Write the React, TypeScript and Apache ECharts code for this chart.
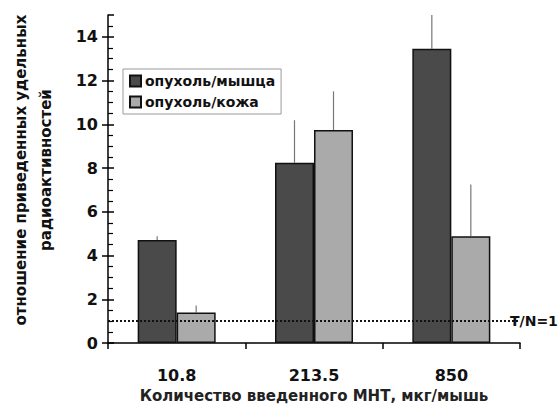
import React, { useEffect, useRef } from "react";
import * as echarts from "echarts";

const categories = ["10.8", "213.5", "850"];
const seriesNames = ["опухоль/мышца", "опухоль/кожа"];
const muscleValues = [4.71, 8.25, 13.46];
const muscleErrors = [0.18, 1.94, 1.63];
const skinValues = [1.4, 9.74, 4.89];
const skinErrors = [0.32, 1.77, 2.36];
const referenceLevel = 1;
const referenceLabel = "T/N=1";
const yAxisName = "отношение приведенных удельных\nрадиоактивностей";
const xAxisName = "Количество введенного МНТ, мкг/мышь";

const FONT = "'DejaVu Sans', 'Liberation Sans', Arial, sans-serif";
const BAR_W = 39;

function errorSeries(values: number[], errors: number[], offset: number) {
  return {
    type: "custom",
    clip: true,
    silent: true,
    z: 1,
    data: values.map((v, i) => [i, v, errors[i]]),
    renderItem: (params: any, api: any) => {
      const base = api.coord([api.value(0), api.value(1)]);
      const top = api.coord([api.value(0), api.value(1) + api.value(2)]);
      const x = base[0] + offset;
      return {
        type: "line",
        shape: { x1: x, y1: base[1], x2: x, y2: top[1] },
        style: { stroke: "#777", lineWidth: 1.2 },
      };
    },
  };
}

export default function App() {
  const ref = useRef<HTMLDivElement>(null);
  useEffect(() => {
    if (!ref.current) return;
    const chart = echarts.init(ref.current, null, { renderer: "svg" });
    chart.setOption({
      animation: false,
      backgroundColor: "#fff",
      textStyle: { fontFamily: FONT },
      grid: { left: 107, right: 38, top: 15, bottom: 61 },
      legend: {
        orient: "vertical",
        left: 123,
        top: 69,
        padding: [5, 6, 5, 6],
        itemGap: 7,
        itemWidth: 11,
        itemHeight: 11,
        icon: "rect",
        backgroundColor: "#fff",
        borderColor: "#999",
        borderWidth: 1,
        textStyle: { fontFamily: FONT, fontWeight: "bold", fontSize: 14, color: "#111", padding: [0, 0, 0, -1] },
        data: seriesNames,
      },
      xAxis: {
        type: "category",
        data: categories,
        name: xAxisName,
        nameLocation: "middle",
        nameGap: 44,
        nameTextStyle: { fontFamily: FONT, fontWeight: "bold", fontSize: 15, color: "#222" },
        axisLine: { lineStyle: { color: "#000", width: 1.5 } },
        axisTick: { show: true, length: 6, lineStyle: { color: "#000", width: 1.5 } },
        axisLabel: { fontFamily: FONT, fontWeight: "bold", fontSize: 16, color: "#111", margin: 24 },
      },
      yAxis: [
        {
          type: "value",
          min: 0,
          max: 15,
          interval: 2,
          name: yAxisName,
          nameLocation: "middle",
          nameRotate: 90,
          nameGap: 50,
          nameTextStyle: {
            fontFamily: FONT,
            fontWeight: "bold",
            fontSize: 15,
            color: "#111",
            lineHeight: 25,
            padding: [0, 0, 0, 18],
          },
          axisLine: { show: true, lineStyle: { color: "#000", width: 1.5 } },
          axisTick: { show: true, length: 6, lineStyle: { color: "#000", width: 1.5 } },
          axisLabel: { fontFamily: FONT, fontWeight: "bold", fontSize: 16, color: "#111", margin: 10, showMaxLabel: false },
          splitLine: { show: false },
        },
        {
          type: "value",
          min: 0,
          max: 15,
          interval: 2,
          position: "left",
          axisLine: { show: false },
          axisLabel: { show: false },
          axisTick: { show: true, inside: true, length: 6, lineStyle: { color: "#000", width: 1.5 } },
          minorTick: { show: true, splitNumber: 4, length: 5, lineStyle: { color: "#000", width: 1.2 } },
          splitLine: { show: false },
        },
      ],
      series: [
        {
          name: seriesNames[0],
          type: "bar",
          data: muscleValues,
          barWidth: BAR_W,
          barGap: "0%",
          itemStyle: { color: "#4a4a4a", borderColor: "#111", borderWidth: 1.5 },
          z: 2,
          markLine: {
            silent: true,
            symbol: "none",
            z: 5,
            lineStyle: { color: "#111", type: "dotted", width: 2 },
            label: {
              show: true,
              position: "end",
              distance: -10,
              formatter: referenceLabel,
              fontFamily: FONT,
              fontWeight: "bold",
              fontSize: 14,
              color: "#111",
            },
            data: [{ yAxis: referenceLevel }],
          },
        },
        {
          name: seriesNames[1],
          type: "bar",
          data: skinValues,
          barWidth: BAR_W,
          barGap: "0%",
          itemStyle: { color: "#aaaaaa", borderColor: "#111", borderWidth: 1.5 },
          z: 2,
        },
        errorSeries(muscleValues, muscleErrors, -BAR_W / 2),
        errorSeries(skinValues, skinErrors, BAR_W / 2),
      ],
    });
    return () => chart.dispose();
  }, []);
  return <div ref={ref} style={{ width: 558, height: 408, position: "absolute", left: 0, top: 0 }} />;
}
